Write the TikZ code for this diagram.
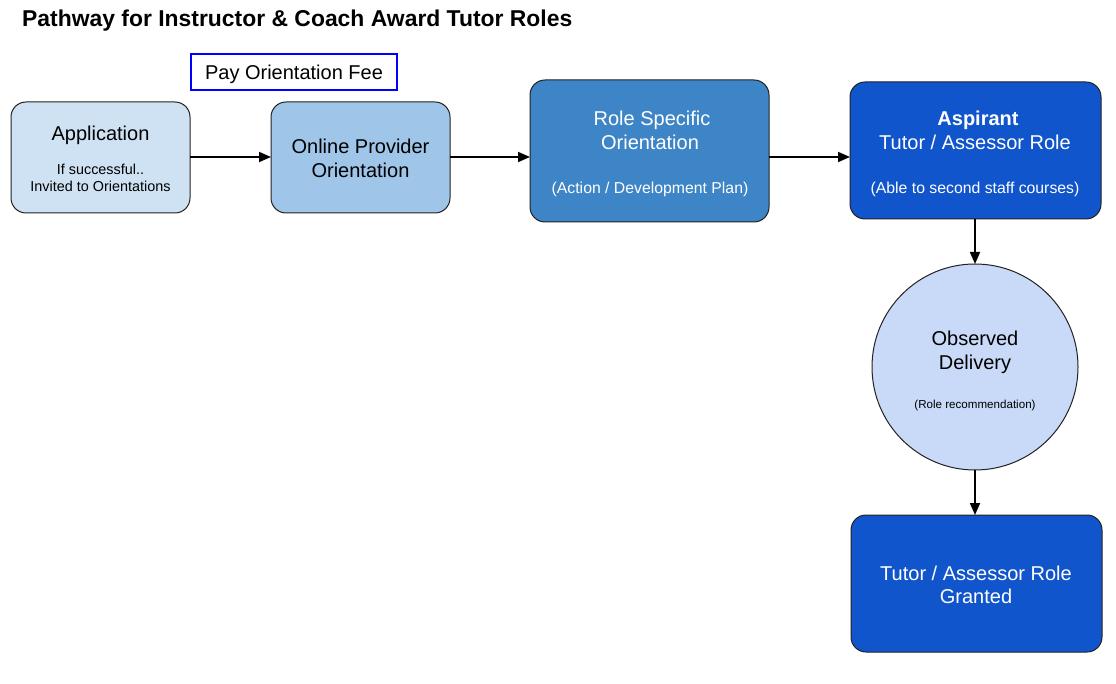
\documentclass[tikz,border=0pt]{standalone}
\usepackage{fontspec}
\setmainfont{Liberation Sans}
\usetikzlibrary{arrows.meta}
\definecolor{cA}{HTML}{CFE2F3}
\definecolor{cB}{HTML}{9FC5E8}
\definecolor{cC}{HTML}{3D85C6}
\definecolor{cD}{HTML}{1155CC}
\definecolor{cE}{HTML}{C9DAF8}
\definecolor{edge}{HTML}{222222}
\definecolor{feeblue}{HTML}{0000FF}
\tikzset{
  box/.style={draw=edge, line width=1pt, rounded corners=15pt, inner sep=0pt},
  big/.style={font=\fontsize{20}{24}\selectfont, anchor=base, inner sep=0pt},
  small/.style={font=\fontsize{14.4}{17}\selectfont, anchor=base, inner sep=0pt},
  mid/.style={font=\fontsize{15.8}{18}\selectfont, anchor=base, inner sep=0pt},
  tiny/.style={font=\fontsize{11.6}{13}\selectfont, anchor=base, inner sep=0pt},
  flow/.style={line width=1.8pt, -{Triangle[length=12pt,width=10pt]}},
}
\begin{document}
\begin{tikzpicture}[x=1pt,y=-1pt]
\useasboundingbox (0,0) rectangle (1116,684);
% title
\node[font=\bfseries\fontsize{22.9}{27}\selectfont, anchor=base west, inner sep=0pt] (title) at (22,26.5) {Pathway for Instructor \& Coach Award Tutor Roles};
% fee label
\filldraw[draw=feeblue, fill=white, line width=1.3pt] (191,54) rectangle (397,90);
\node[big] (fee) at (294,80) {Pay Orientation Fee};
% boxes
\draw[box, fill=cA] (11,102) rectangle (190,213);
\coordinate (appE) at (190,157);
\node[big] (app1) at (100.5,141) {Application};
\node[small] (app2) at (100.5,175) {If successful..};
\node[small] (app3) at (100.5,191.5) {Invited to Orientations};

\draw[box, fill=cB] (271,102) rectangle (450,213);
\coordinate (onW) at (271,157);
\coordinate (onE) at (450,157);
\node[big] (on1) at (360.5,154) {Online Provider};
\node[big] (on2) at (360.5,177.5) {Orientation};

\draw[box, fill=cC] (530,80) rectangle (769,222);
\coordinate (roW) at (530,157);
\coordinate (roE) at (769,157);
\node[big, text=white] (ro1) at (652,126) {Role Specific};
\node[big, text=white] (ro2) at (650,149.5) {Orientation};
\node[mid, text=white] (ro3) at (650,193.5) {(Action / Development Plan)};

\draw[box, fill=cD] (850,82) rectangle (1101,219);
\coordinate (asW) at (850,157);
\coordinate (asS) at (975,219);
\node[big, text=white, font=\bfseries\fontsize{20}{24}\selectfont] (as1) at (978,126) {Aspirant};
\node[big, text=white] (as2) at (975,149.5) {Tutor / Assessor Role};
\node[mid, text=white] (as3) at (975,193.5) {(Able to second staff courses)};

\draw[draw=edge, line width=1pt, fill=cE] (975,367) circle[radius=103];
\coordinate (obN) at (975,264);
\coordinate (obS) at (975,470);
\node[big] (ob1) at (975,346) {Observed};
\node[big] (ob2) at (975,369.3) {Delivery};
\node[tiny] (ob3) at (975,408.5) {(Role recommendation)};

\draw[box, fill=cD] (851,515) rectangle (1102,652);
\coordinate (grN) at (975,515);
\node[big, text=white] (gr1) at (976,580.3) {Tutor / Assessor Role};
\node[big, text=white] (gr2) at (976,603.7) {Granted};

% connectors
\draw[flow] (appE) -- (onW);
\draw[flow] (onE) -- (roW);
\draw[flow] (roE) -- (asW);
\draw[flow] (asS) -- (obN);
\draw[flow] (obS) -- (grN);
\end{tikzpicture}
\end{document}
